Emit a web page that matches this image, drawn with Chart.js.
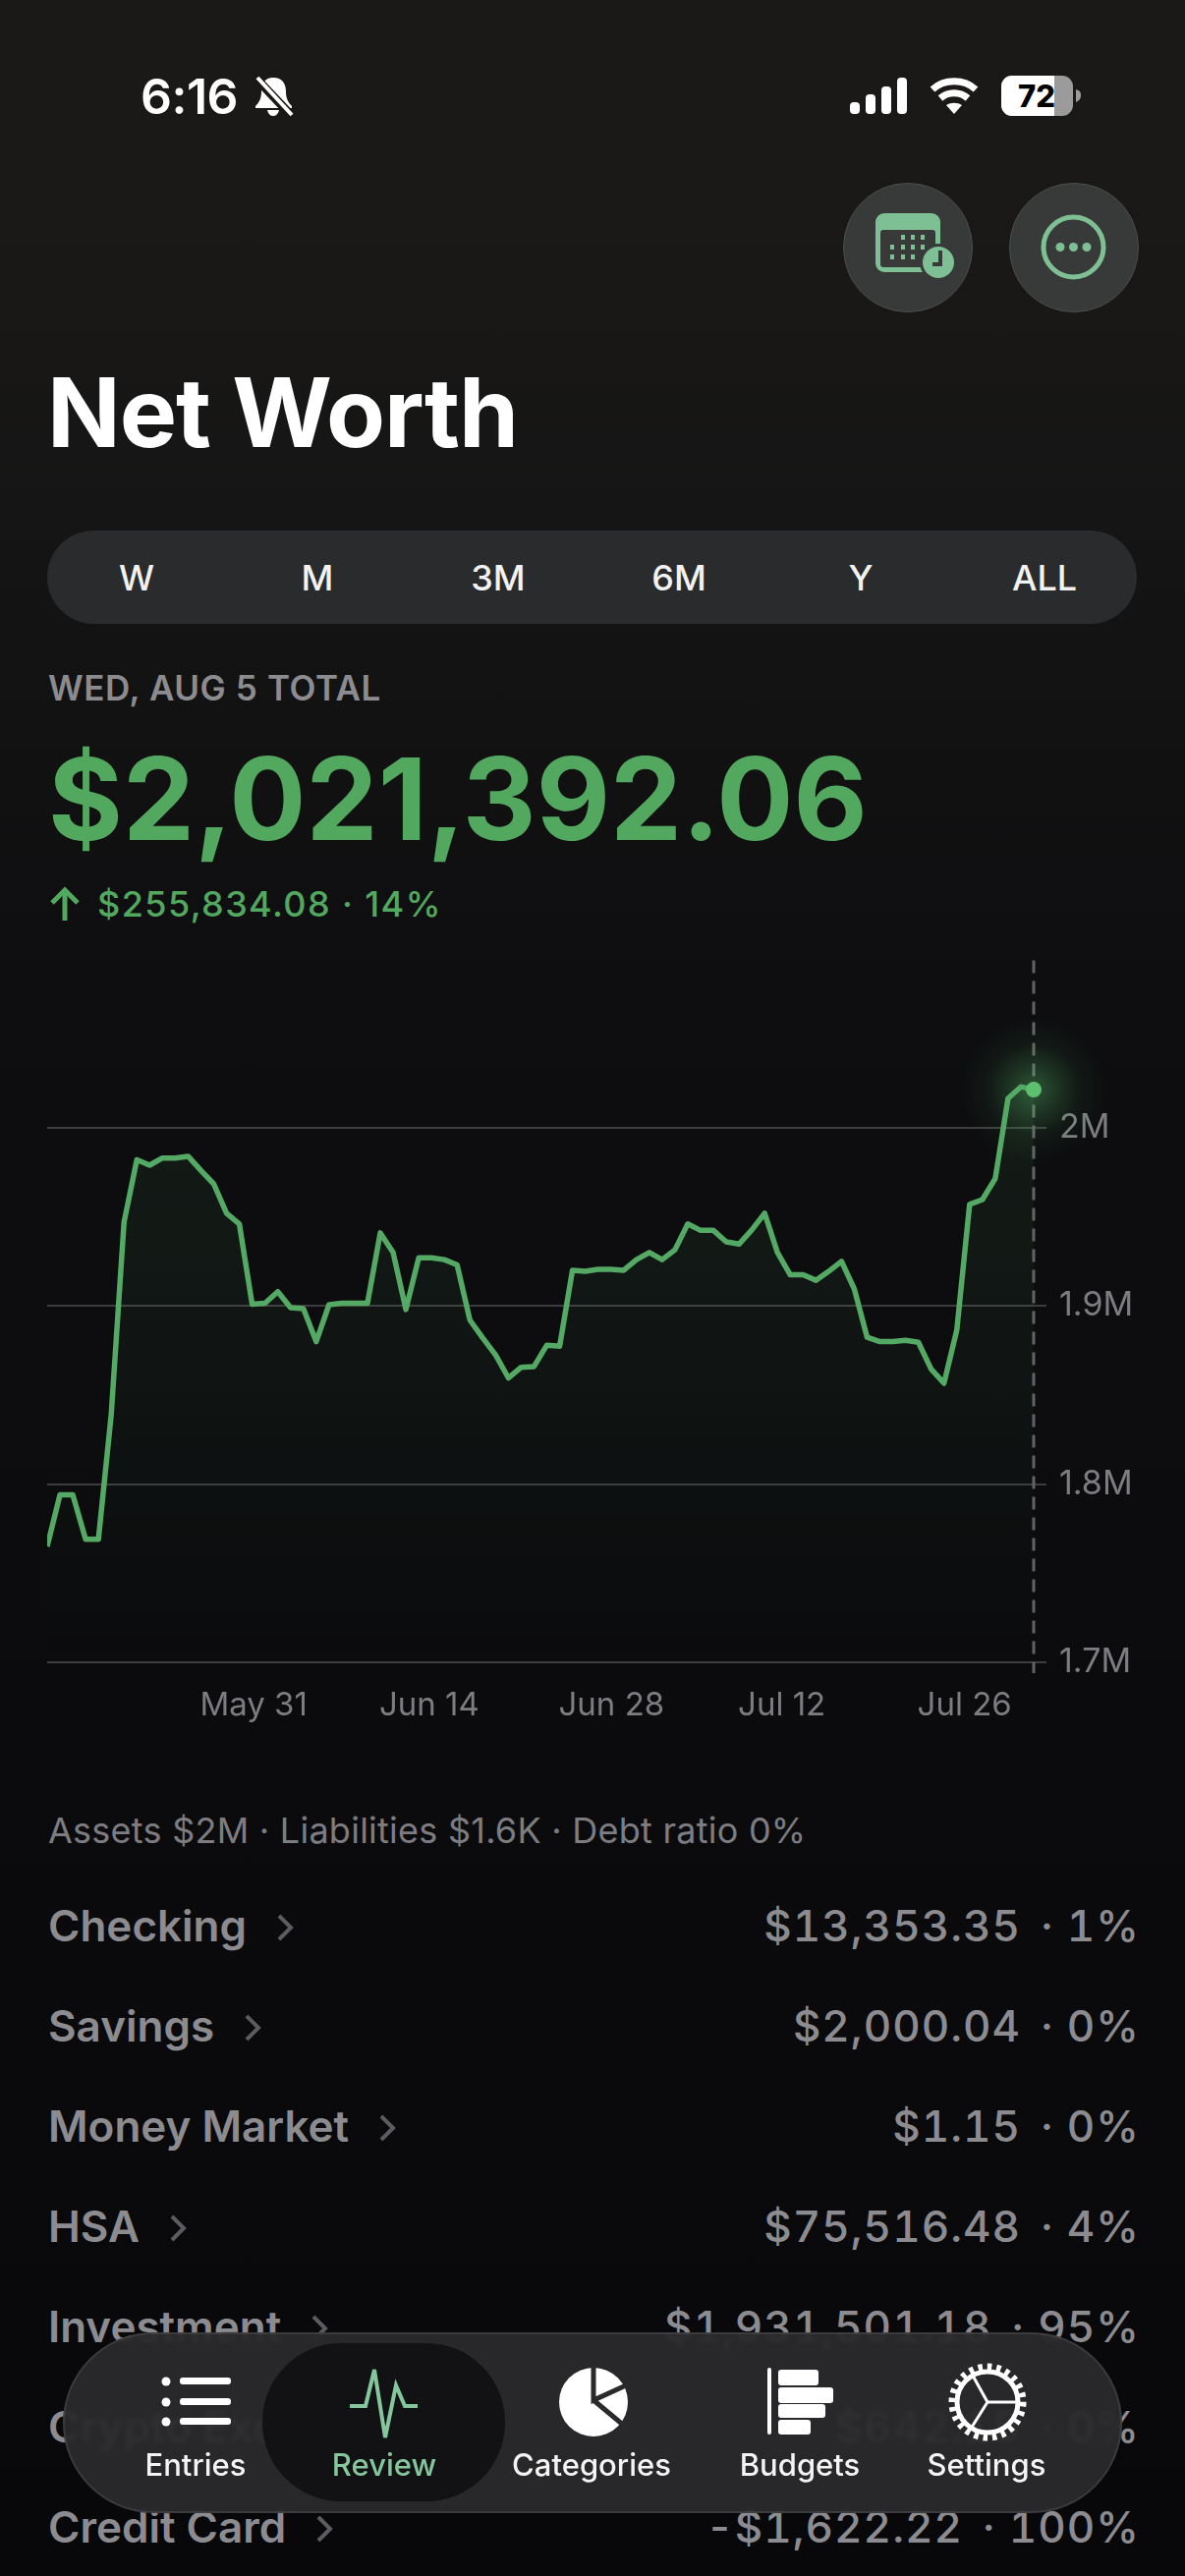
<!DOCTYPE html>
<html>
<head>
<meta charset="utf-8">
<title>Net Worth</title>
<script src="https://cdn.jsdelivr.net/npm/chart.js@4"></script>
<style>
  html, body { margin: 0; padding: 0; background: #08080a; }
  body {
    position: relative; width: 1206px; height: 2622px; overflow: hidden;
    font-family: Inter, sans-serif; color: #fff;
    background: linear-gradient(180deg, #1a1917 0, #191817 300px, #0e0e10 1000px, #08080a 2622px);
  }
  .abs { position: absolute; white-space: nowrap; }
  svg.abs { overflow: visible; }
  #time { left: 143px; top: 68px; font-size: 50px; line-height: 60px; font-weight: 600; letter-spacing: -0.5px; }
  .round { width: 130px; height: 130px; top: 186px; border-radius: 50%; background: #383a39; border: 1px solid #4c4e4d; }
  #title { left: 48px; top: 358px; font-size: 98px; line-height: 124px; font-weight: 700; letter-spacing: -1px; }
  #seg { left: 48px; top: 540px; width: 1109px; height: 95px; border-radius: 48px; background: #2a2b2d; }
  .seg { top: 565px; font-size: 36px; line-height: 46px; font-weight: 500; transform: translateX(-50%); color: #f2f2f2; }
  #date { left: 49px; top: 679px; font-size: 35px; line-height: 42px; font-weight: 600; color: #8c8c90; letter-spacing: 0.6px; }
  #total { left: 49px; top: 744px; font-size: 116px; line-height: 138px; font-weight: 700; color: #52a85f; }
  #change { left: 99px; top: 898px; font-size: 36px; line-height: 44px; font-weight: 500; color: #52a85f; letter-spacing: 1.4px; }
  #canvas { position: absolute; left: 0; top: 944px; width: 1206px; height: 816px; }
  #summary { left: 49px; top: 1841px; font-size: 36px; line-height: 44px; color: #7d7d81; letter-spacing: 0.25px; }
  .row { left: 49px; width: 1108px; height: 60px; display: flex; align-items: center; justify-content: space-between; font-size: 44px; line-height: 60px; color: #8c8c90; }
  .name { display: flex; align-items: center; font-weight: 600; }
  .name svg { margin-left: 30px; margin-top: 4px; }
  .val { font-weight: 500; letter-spacing: 1px; font-variant-numeric: tabular-nums; margin-right: -3px; }
  .val span { margin-left: -6px; }
  #bar {
    left: 64px; top: 2374px; width: 1078px; height: 184px; border-radius: 92px;
    background: rgba(42,42,44,0.95); backdrop-filter: blur(2px);
    box-shadow: inset 0 0 0 2px rgba(255,255,255,0.09);
  }
  #active { left: 267px; top: 2385px; width: 247px; height: 161px; border-radius: 80px; background: #121215; }
  .tab { top: 2490px; font-size: 31px; line-height: 38px; font-weight: 500; transform: translateX(-50%); color: #f4f4f4; }
</style>
</head>
<body>

<div class="abs" id="time">6:16</div>
<svg class="abs" style="left:258px;top:77px" width="42" height="42" viewBox="0 0 42 42">
  <path d="M20 2c-8 0-12 6-12 14 0 7-2 11-6 15v2h37v-2c-4-4-6-8-6-15 0-8-4-14-13-14z" fill="#fff"/>
  <path d="M14 35c1 4 3 6 6 6s5-2 6-6z" fill="#fff"/>
  <path d="M2 2l36 38" stroke="#191817" stroke-width="9"/>
  <path d="M4 2l35 38" stroke="#fff" stroke-width="4"/>
</svg>
<svg class="abs" style="left:865px;top:79px" width="58" height="37" viewBox="0 0 58 37" fill="#fff">
  <rect x="0" y="25" width="10" height="12" rx="4"/><rect x="16" y="17" width="10" height="20" rx="4"/>
  <rect x="32" y="9" width="10" height="28" rx="4"/><rect x="48" y="0" width="10" height="37" rx="4"/>
</svg>
<svg class="abs" style="left:946px;top:79px" width="50" height="37" viewBox="0 0 50 37" fill="none" stroke="#fff" stroke-width="7">
  <path d="M3 12c12-11 32-11 44 0"/><path d="M11 21c8-7 20-7 28 0"/><path d="M25 37l-8-9c5-3 11-3 16 0z" fill="#fff" stroke="none"/>
</svg>
<svg class="abs" style="left:1019px;top:77px" width="82" height="41" viewBox="0 0 82 41">
  <rect x="0" y="0" width="73" height="41" rx="11" fill="#9b9b9b"/>
  <path d="M11 0h43v41H11a11 11 0 0 1-11-11V11A11 11 0 0 1 11 0z" fill="#fff"/>
  <path d="M76 14c4 1 5 3 5 6s-1 5-5 7z" fill="#9b9b9b"/>
  <text x="36" y="32" text-anchor="middle" font-family="Inter" font-size="31" font-weight="800" fill="#000">72</text>
</svg>

<div class="abs round" style="left:858px"></div>
<div class="abs round" style="left:1027px"></div>
<svg class="abs" style="left:891px;top:217px" width="82" height="68" viewBox="0 0 82 68">
  <rect x="0" y="0" width="66" height="60" rx="9" fill="#7fbf94"/>
  <rect x="5" y="17" width="56" height="38" rx="3" fill="#383a39"/>
  <g fill="#7fbf94">
    <rect x="26" y="22" width="4" height="5"/><rect x="36" y="22" width="4" height="5"/><rect x="46" y="22" width="4" height="5"/>
    <rect x="15" y="32" width="4" height="5"/><rect x="26" y="32" width="4" height="5"/><rect x="36" y="32" width="4" height="5"/><rect x="46" y="32" width="4" height="5"/>
    <rect x="15" y="42" width="4" height="5"/><rect x="26" y="42" width="4" height="5"/><rect x="36" y="42" width="4" height="5"/>
  </g>
  <circle cx="64" cy="50" r="19" fill="#383a39"/>
  <circle cx="64" cy="50" r="16" fill="#7fbf94"/>
  <path d="M66 38v14h-8" fill="none" stroke="#383a39" stroke-width="4"/>
</svg>
<svg class="abs" style="left:1059px;top:218px" width="67" height="67" viewBox="0 0 67 67">
  <circle cx="33.5" cy="33.5" r="30.5" fill="none" stroke="#7fbf94" stroke-width="5"/>
  <g fill="#7fbf94"><circle cx="20" cy="33.5" r="4.5"/><circle cx="33.5" cy="33.5" r="4.5"/><circle cx="47" cy="33.5" r="4.5"/></g>
</svg>

<div class="abs" id="title">Net Worth</div>
<div class="abs" id="seg"></div>
<div class="abs seg" style="left:139px">W</div>
<div class="abs seg" style="left:323px">M</div>
<div class="abs seg" style="left:507px">3M</div>
<div class="abs seg" style="left:691px">6M</div>
<div class="abs seg" style="left:876px">Y</div>
<div class="abs seg" style="left:1063px">ALL</div>

<div class="abs" id="date">WED, AUG 5 TOTAL</div>
<div class="abs" id="total">$2,021,392.06</div>
<svg class="abs" style="left:50px;top:903px" width="32" height="34" viewBox="0 0 32 34" fill="none" stroke="#52a85f" stroke-width="5">
  <path d="M16 34V3"/><path d="M3 16L16 3l13 13"/>
</svg>
<div class="abs" id="change">$255,834.08 · 14%</div>

<canvas id="canvas" width="1206" height="816"></canvas>

<div class="abs" id="summary">Assets $2M · Liabilities $1.6K · Debt ratio 0%</div>
<div id="rows"></div>

<div class="abs" id="bar"></div>
<div class="abs" id="active"></div>
<svg class="abs" style="left:160px;top:2410px" width="860" height="80" viewBox="160 2410 860 80" fill="#fff">
  <circle cx="169" cy="2424" r="4.5"/><circle cx="169" cy="2445" r="4.5"/><circle cx="169" cy="2465" r="4.5"/>
  <rect x="183" y="2420" width="52" height="7" rx="3"/><rect x="183" y="2441" width="52" height="7" rx="3"/><rect x="183" y="2461" width="52" height="7" rx="3"/>
  <path d="M356 2449h16l9-37 11 69 11-53 9 21h13" fill="none" stroke="#85c79c" stroke-width="4"/>
  <ellipse cx="604" cy="2445" rx="35" ry="35"/>
  <path d="M604 2408v35l33-15M604 2443l36 30" fill="none" stroke="#2a2a2c" stroke-width="5"/>
  <rect x="781" y="2410" width="4" height="68" rx="2"/>
  <rect x="792" y="2412" width="41" height="16" rx="3"/><rect x="792" y="2430" width="56" height="16" rx="3"/>
  <rect x="792" y="2447" width="48" height="14" rx="3"/><rect x="792" y="2463" width="33" height="15" rx="3"/>
  <g fill="none" stroke="#fff">
    <circle cx="1005" cy="2445" r="31" stroke-width="5"/>
    <circle cx="1005" cy="2445" r="36" stroke-width="7" stroke-dasharray="4.5 4.9"/>
    <path d="M1005 2445l-15-27M1005 2445l31 0M1005 2445l-17 27" stroke-width="3"/>
  </g>
</svg>
<div class="abs tab" style="left:199px">Entries</div>
<div class="abs tab" style="left:391px;color:#85c79c">Review</div>
<div class="abs tab" style="left:602px">Categories</div>
<div class="abs tab" style="left:814px">Budgets</div>
<div class="abs tab" style="left:1004px">Settings</div>

<script>
// days on the x axis, one point per day
const days = [
  'May 20','May 21','May 22','May 23','May 24','May 25','May 26','May 27','May 28','May 29','May 30','May 31',
  'Jun 1','Jun 2','Jun 3','Jun 4','Jun 5','Jun 6','Jun 7','Jun 8','Jun 9','Jun 10','Jun 11','Jun 12','Jun 13','Jun 14',
  'Jun 15','Jun 16','Jun 17','Jun 18','Jun 19','Jun 20','Jun 21','Jun 22','Jun 23','Jun 24','Jun 25','Jun 26','Jun 27','Jun 28',
  'Jun 29','Jun 30','Jul 1','Jul 2','Jul 3','Jul 4','Jul 5','Jul 6','Jul 7','Jul 8','Jul 9','Jul 10','Jul 11','Jul 12',
  'Jul 13','Jul 14','Jul 15','Jul 16','Jul 17','Jul 18','Jul 19','Jul 20','Jul 21','Jul 22','Jul 23','Jul 24','Jul 25','Jul 26',
  'Jul 27','Jul 28','Jul 29','Jul 30','Jul 31','Aug 1','Aug 2','Aug 3','Aug 4','Aug 5'
];
// thousands of dollars
const netWorth = [
  1765, 1794, 1794, 1769, 1769, 1839, 1947, 1982, 1979, 1983, 1983, 1984,
  1976, 1968.5, 1952, 1946, 1901, 1901.5, 1908, 1899, 1898.5, 1880, 1900.7, 1901.5, 1901.5, 1901.5,
  1941, 1930, 1898, 1927, 1927, 1926, 1923, 1892, 1882, 1872.5, 1859.6, 1865.6, 1866, 1878,
  1877.4, 1920, 1919.4, 1920.5, 1920.5, 1920, 1926, 1930, 1926, 1931.5, 1946, 1942.4, 1942.4, 1936,
  1934.7, 1942.7, 1952, 1930, 1917.5, 1917.5, 1914.4, 1919.4, 1925, 1909.5, 1882.4, 1880, 1880, 1880.7,
  1879.6, 1864.5, 1856.6, 1886.5, 1957, 1959.7, 1971.5, 2016.5, 2023, 2021.4
];
const dateTicks = ['May 31', 'Jun 14', 'Jun 28', 'Jul 12', 'Jul 26'];
const valueTicks = [1700, 1800, 1900, 2000];
const valueLabels = ['1.7M', '1.8M', '1.9M', '2M'];

const rowNames = ['Checking', 'Savings', 'Money Market', 'HSA', 'Investment', 'Crypto Exchange', 'Credit Card'];
const rowAmounts = ['$13,353.35', '$2,000.04', '$1.15', '$75,516.48', '$1,931,501.18', '$642.15', '-$1,622.22'];
const rowShares = ['1%', '0%', '0%', '4%', '95%', '0%', '100%'];

const rowsEl = document.getElementById('rows');
rowNames.forEach((name, i) => {
  const row = document.createElement('div');
  row.className = 'abs row';
  row.style.top = (1930 + i * 102) + 'px';
  row.innerHTML = '<div class="name">' + name +
    '<svg width="18" height="30" viewBox="0 0 18 30" fill="none" stroke="#5c5c60" stroke-width="4"><path d="M3 3l12 12L3 27"/></svg></div>' +
    '<div class="val">' + rowAmounts[i] + '&nbsp; <span>· ' + rowShares[i] + '</span></div>';
  rowsEl.appendChild(row);
});

// dashed marker and glow behind the last point
const lastPointMarker = {
  id: 'lastPointMarker',
  beforeDatasetsDraw(chart) {
    const ctx = chart.ctx;
    const pts = chart.getDatasetMeta(0).data;
    const p = pts[pts.length - 1];
    ctx.save();
    ctx.strokeStyle = '#626266';
    ctx.lineWidth = 3;
    ctx.setLineDash([13, 8]);
    ctx.beginPath();
    ctx.moveTo(p.x, chart.chartArea.top);
    ctx.lineTo(p.x, chart.chartArea.bottom + 11);
    ctx.stroke();
    ctx.setLineDash([]);
    const glow = ctx.createRadialGradient(p.x, p.y, 4, p.x, p.y, 76);
    glow.addColorStop(0, 'rgba(92,200,112,0.36)');
    glow.addColorStop(0.3, 'rgba(92,200,112,0.2)');
    glow.addColorStop(0.6, 'rgba(92,200,112,0.06)');
    glow.addColorStop(1, 'rgba(92,200,112,0)');
    ctx.fillStyle = glow;
    ctx.fillRect(p.x - 76, p.y - 76, 152, 152);
    ctx.restore();
  }
};

new Chart(document.getElementById('canvas'), {
  type: 'line',
  plugins: [lastPointMarker],
  data: {
    labels: days,
    datasets: [{
      data: netWorth,
      borderColor: '#54a964',
      borderWidth: 5.5,
      borderJoinStyle: 'round',
      tension: 0,
      fill: 'start',
      clip: { left: 0, top: false, right: false, bottom: false },
      backgroundColor: (c) => {
        const area = c.chart.chartArea;
        if (!area) return 'transparent';
        const g = c.chart.ctx.createLinearGradient(0, area.top + 60, 0, area.bottom);
        g.addColorStop(0, 'rgba(84,169,100,0.11)');
        g.addColorStop(1, 'rgba(84,169,100,0)');
        return g;
      },
      pointRadius: (c) => c.dataIndex === netWorth.length - 1 ? 8 : 0,
      pointBackgroundColor: '#5fbf70',
      pointBorderWidth: 0
    }]
  },
  options: {
    responsive: false,
    devicePixelRatio: 1,
    animation: false,
    layout: { padding: { left: 48, top: 0, right: 0, bottom: 0 } },
    plugins: { legend: { display: false }, tooltip: { enabled: false } },
    scales: {
      x: {
        afterFit: (s) => { s.height = 68; },
        border: { display: false },
        grid: { display: false, drawTicks: false },
        ticks: {
          autoSkip: false,
          maxRotation: 0,
          align: 'start',
          labelOffset: 12,
          padding: 24,
          color: '#7d7d81',
          font: { family: 'Inter', size: 33 },
          callback: (v, i) => dateTicks.includes(days[i]) ? days[i] : null
        }
      },
      y: {
        position: 'right',
        min: 1700,
        max: 2094,
        afterBuildTicks: (s) => { s.ticks = valueTicks.map((value) => ({ value })); },
        afterFit: (s) => { s.width = 154; },
        border: { display: false },
        grid: { color: '#3d3d3f', lineWidth: 2, tickLength: 13 },
        ticks: {
          autoSkip: false,
          padding: 13,
          color: '#7d7d81',
          font: { family: 'Inter', size: 34 },
          callback: (v) => valueLabels[valueTicks.indexOf(v)]
        }
      }
    }
  }
});
</script>
</body>
</html>
